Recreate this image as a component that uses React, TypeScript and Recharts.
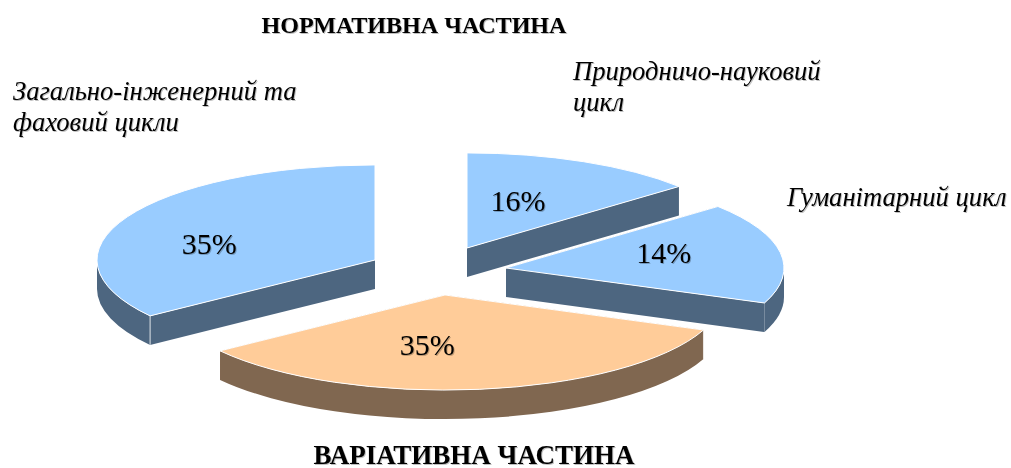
import React from 'react';
import { PieChart, Pie, Cell } from 'recharts';

const categories = ['Природничо-науковий цикл', 'Гуманітарний цикл', 'Варіативна частина', 'Загально-інженерний та фаховий цикли'];
// widths of the slices as drawn in the picture; the printed labels do not quite agree with them
const sliceShares = [13.8, 17.2, 34, 35];
const printedLabels = ['16%', '14%', '35%', '35%'];
const topColors = ['#99CCFF', '#99CCFF', '#FFCC99', '#99CCFF'];
const wallColors = ['#4D6680', '#4D6680', '#806750', '#4D6680'];

const WIDTH = 1011;
const HEIGHT = 468;
const TILT = 0.342;
const DEPTH = 29;
// how far each slice is pulled out of the pie, in px on screen
const explode = [[33, -23], [72, -3], [11, 24], [-59, -11]];
const labelShift = [[-15.5, 2], [1.5, -7], [-37.5, -4], [-24.5, 8]];

const rad = (a: number) => (a * Math.PI) / 180;

const Slice3D = (props: any) => {
  const { cx, cy, outerRadius: r, startAngle, endAngle, index, fill } = props;
  const x = cx + explode[index][0];
  const y = cy + explode[index][1];
  const pt = (a: number) => ({
    x: x + r * Math.cos(rad(a)),
    y: y - r * Math.sin(rad(a)) * TILT,
  });
  const ry = r * TILT;
  const s = pt(startAngle);
  const e = pt(endAngle);
  const large = startAngle - endAngle > 180 ? 1 : 0;
  const top = `M${x},${y} L${s.x},${s.y} A${r},${ry} 0 ${large} 1 ${e.x},${e.y} Z`;
  const cut = (p: { x: number; y: number }) =>
    `M${x},${y} L${p.x},${p.y} L${p.x},${p.y + DEPTH} L${x},${y + DEPTH} Z`;

  // only the part of the rim facing the viewer gets a wall
  const hi = Math.min(startAngle, 0);
  const lo = Math.max(endAngle, -180);
  let rim = null;
  let edge = null;
  if (hi > lo) {
    const a = pt(hi);
    const b = pt(lo);
    rim = `M${a.x},${a.y} A${r},${ry} 0 0 1 ${b.x},${b.y} L${b.x},${b.y + DEPTH} A${r},${ry} 0 0 0 ${a.x},${a.y + DEPTH} Z`;
  }
  if (startAngle < 0 && startAngle > -180) {
    edge = <line x1={s.x} y1={s.y} x2={s.x} y2={s.y + DEPTH} stroke="#fff" strokeWidth={1} opacity={0.8} />;
  }

  return (
    <g>
      <path d={cut(s)} fill={props.wall} />
      <path d={cut(e)} fill={props.wall} />
      {rim && <path d={rim} fill={props.wall} />}
      {edge}
      <path d={top} fill={fill} stroke="#fff" strokeWidth={1} />
    </g>
  );
};

const shadow = { filter: 'drop-shadow(1px 1px 0.6px rgba(0,0,0,0.25))' };
const serif = '"Liberation Serif", serif';

const renderLabel = (props: any) => {
  const { index, midAngle, outerRadius: r, cx, cy } = props;
  const mid = rad(midAngle);
  const x = cx + explode[index][0] + 0.57 * r * Math.cos(mid) + labelShift[index][0];
  const y = cy + explode[index][1] - 0.57 * r * Math.sin(mid) * TILT + labelShift[index][1];
  return (
    <text x={x} y={y} textAnchor="middle" dominantBaseline="central" fontSize={30} fontFamily={serif} fill="#000" style={shadow}>
      {printedLabels[index]}
    </text>
  );
};

const chartData = categories.map((name, i) => ({ name, value: sliceShares[i], wall: wallColors[i] }));

export default function App() {
  return (
    <div style={{ position: 'fixed', left: 0, top: 0, width: WIDTH, height: HEIGHT, background: '#fff', fontFamily: serif }}>
      <PieChart width={WIDTH} height={HEIGHT} margin={{ top: 0, right: 0, bottom: 0, left: 0 }}>
        <Pie
          data={chartData}
          dataKey="value"
          nameKey="name"
          cx={434}
          cy={271}
          outerRadius={278}
          startAngle={90}
          endAngle={-270}
          paddingAngle={0}
          stroke="none"
          shape={Slice3D}
          label={renderLabel}
          labelLine={false}
          isAnimationActive={false}
        >
          {chartData.map((d, i) => (
            <Cell key={d.name} fill={topColors[i]} />
          ))}
        </Pie>
        <g fontFamily={serif} fill="#000" style={shadow}>
          <text x={414} y={33} textAnchor="middle" fontSize={24.1} fontWeight="bold">НОРМАТИВНА ЧАСТИНА</text>
          <text x={474} y={464} textAnchor="middle" fontSize={27} fontWeight="bold">ВАРІАТИВНА ЧАСТИНА</text>
          <text x={13} y={100} fontSize={26.6} fontStyle="italic">Загально-інженерний та</text>
          <text x={13} y={131} fontSize={26.6} fontStyle="italic">фаховий цикли</text>
          <text x={573} y={80} fontSize={26.6} fontStyle="italic">Природничо-науковий</text>
          <text x={573} y={111} fontSize={26.6} fontStyle="italic">цикл</text>
          <text x={787} y={206} fontSize={26.6} fontStyle="italic">Гуманітарний цикл</text>
        </g>
      </PieChart>
    </div>
  );
}
